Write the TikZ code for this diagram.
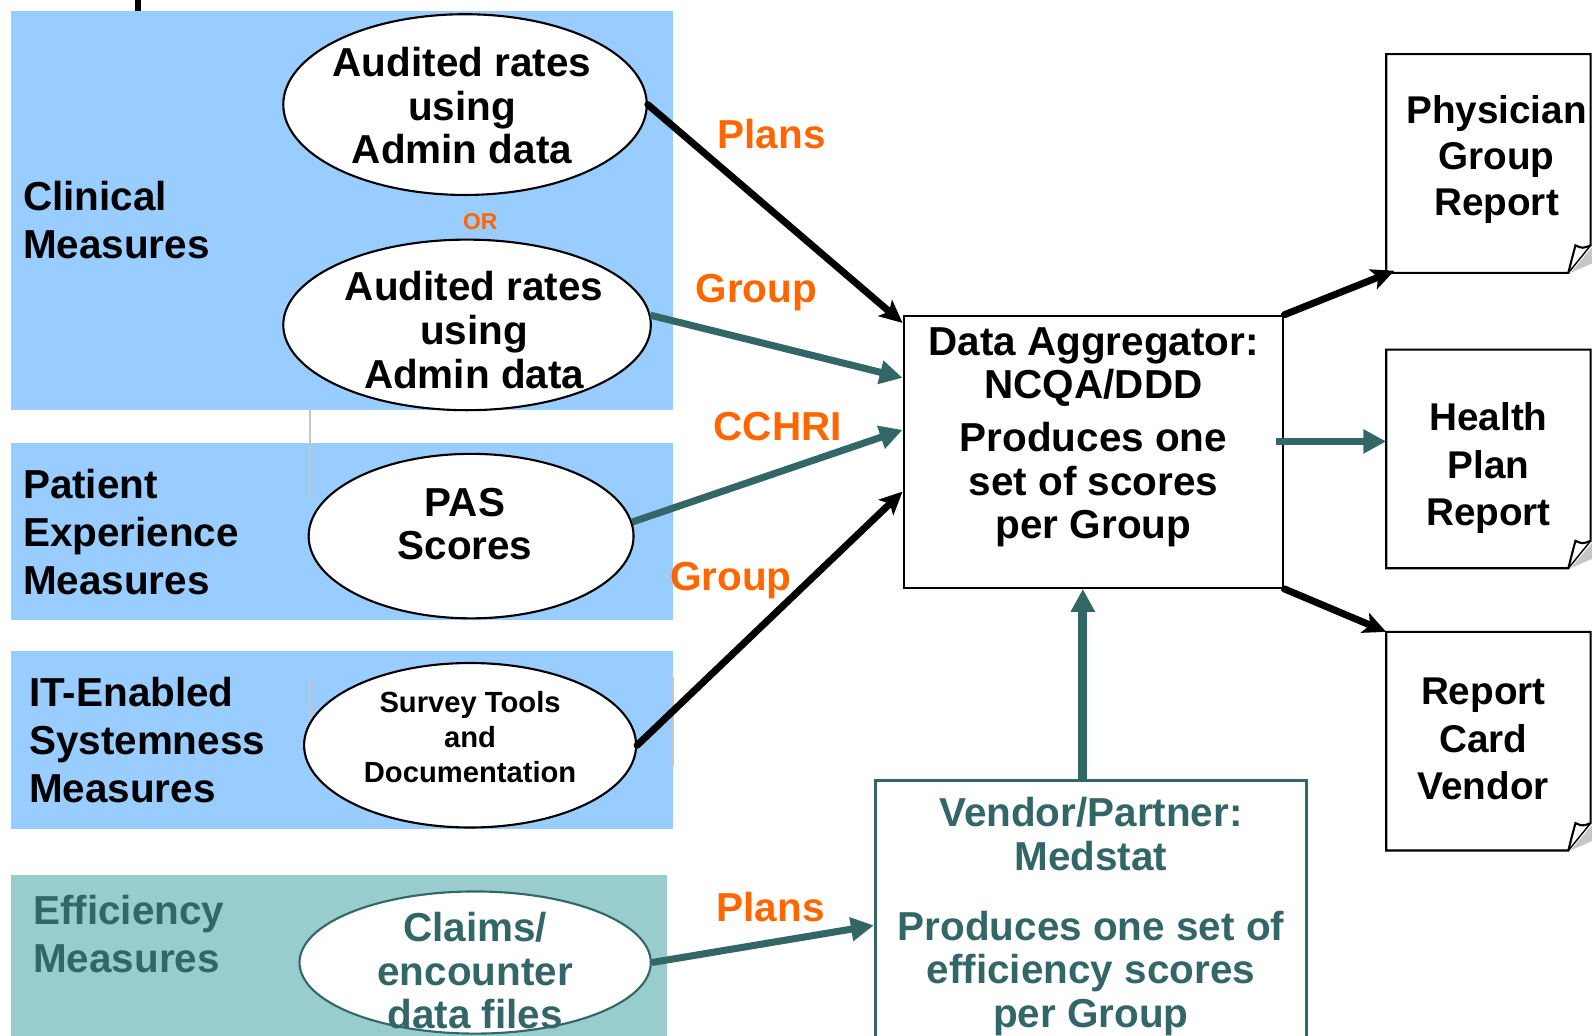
\documentclass[tikz,border=0pt]{standalone}
\usepackage{fontspec}
\setmainfont{Liberation Sans}
\usetikzlibrary{shapes.geometric,arrows.meta,calc,positioning}
\definecolor{skyblue}{HTML}{99CCFF}
\definecolor{seafoam}{HTML}{99CCCC}
\definecolor{darkteal}{HTML}{336666}
\definecolor{flame}{HTML}{FF6600}
\newcommand{\px}{0.01015cm}
\newcommand{\docpage}[1]{%
  \fill[gray!45] ($(#1.south east)+(-20,0)$) -- ($(#1.south east)+(3,-27)$) -- ($(#1.south east)+(3,-10)$) -- cycle;
  \draw[line width=0.6pt, fill=white] (#1.north west) -- (#1.north east) -- ($(#1.south east)+(0,-27)$)
    .. controls ($(#1.south east)+(-8,-24)$) .. ($(#1.south east)+(-15,-27)$)
    .. controls ($(#1.south east)+(-19,-12)$) .. ($(#1.south east)+(-22,0)$) -- (#1.south west) -- cycle;
  \draw[line width=0.4pt] ($(#1.south east)+(-22,0)$) -- ($(#1.south east)+(0,-27)$);
}

\begin{document}
\begin{tikzpicture}[x=\px, y=-\px,
    oval/.style={ellipse, draw, line width=0.6pt, fill=white, inner sep=0pt},
    ovaltxt/.style={inner sep=0pt, align=center, font=\bfseries\fontsize{11.5}{12.4}\selectfont},
    sidetxt/.style={anchor=west, inner sep=0pt, align=left, font=\bfseries\fontsize{11.5}{13.6}\selectfont},
    bigtxt/.style={inner sep=0pt, align=center, font=\bfseries\fontsize{11.5}{12.4}\selectfont},
    tag/.style={text=flame, inner sep=0pt, font=\bfseries\fontsize{11.5}{12}\selectfont},
    report/.style={minimum width=200*\px, minimum height=214*\px, inner sep=0pt, align=center,
      font=\bfseries\fontsize{11}{13.5}\selectfont},
    blk/.style={-{Stealth[length=6.5pt, width=6pt, inset=1.5pt]}, line width=2pt, line cap=round},
    tl/.style={-{Triangle[length=6.5pt, width=6.5pt]}, line width=2pt, darkteal}]
      \useasboundingbox (0,0) rectangle (1568,1020);
      \fill[skyblue] (11,11) rectangle (663,404);
      \fill[skyblue] (11,436) rectangle (663,611);
      \fill[skyblue] (11,641) rectangle (663,816);
      \fill[seafoam] (11,862) rectangle (657,1030);
      \draw[gray!45, line width=0.5pt] (305,404) -- (305,490);
      \draw[gray!45, line width=0.5pt] (305,667) -- (305,712);
      \draw[gray!45, line width=0.5pt] (663,667) -- (663,755);
      \draw[line width=1.7pt] (136,0) -- (136,11);

      \node[sidetxt] (clin) at (22,217) {Clinical\\Measures};
      \node[sidetxt] (pat) at (22,524) {Patient\\Experience\\Measures};
      \node[sidetxt] (itm) at (28,729) {IT-Enabled\\Systemness\\Measures};
      \node[sidetxt, text=darkteal] (eff) at (32,920) {Efficiency\\Measures};

      \node[oval, minimum width=358*\px, minimum height=178*\px] (e1) at (458,103) {};
      \node[ovaltxt] (t1) at (455,104) {Audited rates\\using\\Admin data};
      \node[tag, font=\bfseries\fontsize{6.5}{7}\selectfont] (lor) at (473,218) {OR};
      \node[oval, minimum width=362*\px, minimum height=168*\px] (e2) at (460,320) {};
      \node[ovaltxt] (t2) at (467,325) {Audited rates\\using\\Admin data};
      \node[oval, minimum width=320*\px, minimum height=162*\px] (e3) at (464,528) {};
      \node[ovaltxt] (t3) at (458,516) {PAS\\Scores};
      \node[oval, minimum width=327*\px, minimum height=162*\px] (e4) at (463,734) {};
      \node[ovaltxt, font=\bfseries\fontsize{8.3}{10}\selectfont] (t4) at (463,726) {Survey Tools\\and\\Documentation};
      \node[oval, draw=darkteal, minimum width=346*\px, minimum height=140*\px] (e5) at (468,948) {};
      \node[ovaltxt, text=darkteal] (t5) at (468,956) {Claims/\\encounter\\data files};

      \node[draw, line width=0.6pt, minimum width=374*\px, minimum height=268*\px] (agg) at (1077,445) {};
      \node[bigtxt, below=0.12cm of agg.north] (aggtxt) {Data Aggregator:\\NCQA/DDD\\[2.6pt]Produces one\\set of scores\\per Group};
      \node[draw=darkteal, line width=0.8pt, minimum width=425*\px, minimum height=300*\px, anchor=north] (vend) at (1074.5,767) {};
      \node[bigtxt, text=darkteal, below=0.18cm of vend.north] (vendtxt) {Vendor/Partner:\\Medstat\\[7.5pt]Produces one set of\\efficiency scores\\per Group};

      \node[report] (r1) at (1466,161) {};
      \docpage{r1}
      \node[report, font=\bfseries\fontsize{11}{13}\selectfont] at (1474,157) {Physician\\Group\\Report};
      \node[report] (r2) at (1466,452) {};
      \docpage{r2}
      \node[report] at (1466,461) {Health\\Plan\\Report};
      \node[report] (r3) at (1466,730) {};
      \docpage{r3}
      \node[report] at (1461,728) {Report\\Card\\Vendor};

      \node[tag] (lp1) at (760,132) {Plans};
      \node[tag] (lg1) at (745,288) {Group};
      \node[tag] (lc) at (766,420) {CCHRI};
      \node[tag] (lg2) at (720,572) {Group};
      \node[tag] (lp2) at (759,893) {Plans};

      \draw[blk] (e1.east) -- ($(agg.north west)!0.03!(agg.south west)$);
      \draw[tl] (e2.3) -- ($(agg.north west)!0.23!(agg.south west)$);
      \draw[tl] (e3.5) -- ($(agg.north west)!0.42!(agg.south west)$);
      \draw[blk] (e4.east) -- ($(agg.north west)!0.645!(agg.south west)$);
      \draw[tl] (e5.east) -- ($(vend.north west)!0.477!(vend.south west)$);
      \coordinate (up) at ($(vend.north)+(-8,0)$);
      \draw[tl, line width=2.5pt] (up) -- (up |- agg.south);
      \draw[blk] (agg.north east) -- ($(r1.south west)+(8,-2)$);
      \coordinate (hp) at ($(r2.north west)!0.42!(r2.south west)$);
      \draw[tl] ($(agg.east |- hp)+(-8,0)$) -- (hp);
      \draw[blk] (agg.south east) -- (r3.north west);
\end{tikzpicture}
\end{document}
